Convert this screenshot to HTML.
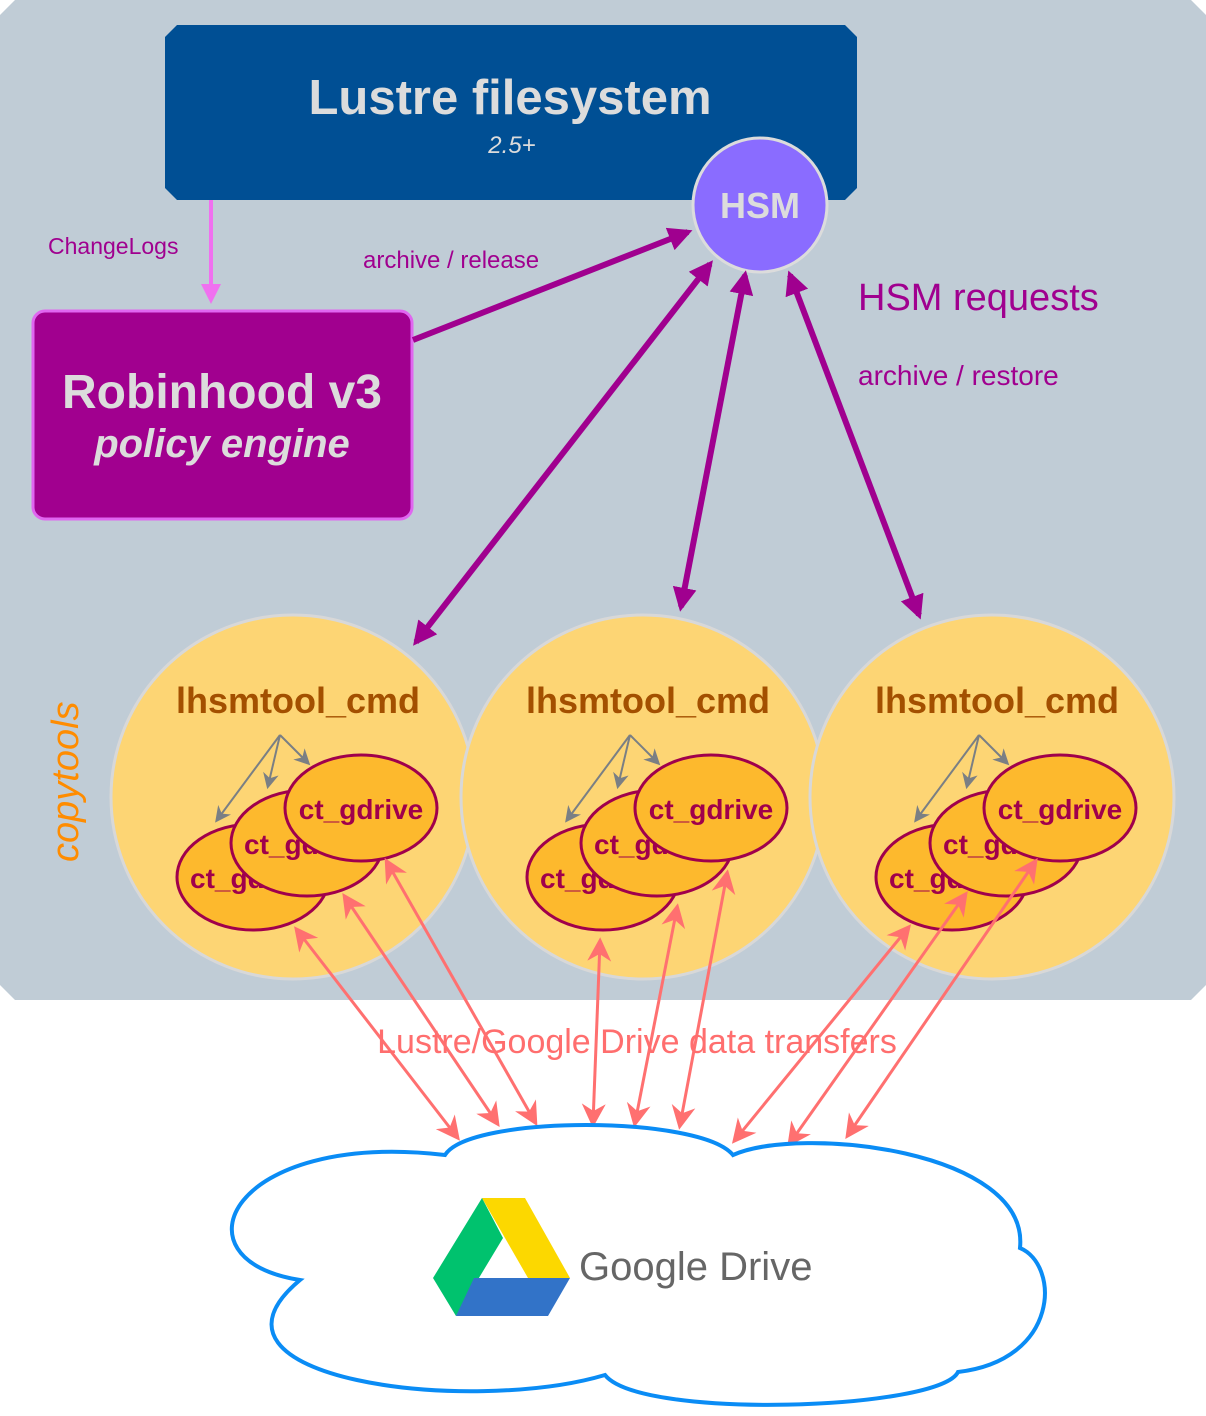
<!DOCTYPE html>
<html><head><meta charset="utf-8"><style>html,body{margin:0;padding:0;background:#fff}svg{display:block}text{font-family:"Liberation Sans",Arial,sans-serif}</style></head><body>
<svg width="1206" height="1416" viewBox="0 0 1206 1416" xmlns="http://www.w3.org/2000/svg">
<defs>
<marker id="pa" viewBox="0 0 10 10" refX="8" refY="5" markerWidth="4" markerHeight="4" orient="auto-start-reverse"><path d="M0,0 L10,5 L0,10 Z" fill="#a0008f"/></marker>
<marker id="ka" viewBox="0 0 10 10" refX="8" refY="5" markerWidth="8" markerHeight="8" orient="auto-start-reverse"><path d="M0,0 L10,5 L0,10 L3,5 Z" fill="#ff7070"/></marker>
<marker id="ga" viewBox="0 0 10 10" refX="8" refY="5" markerWidth="8" markerHeight="8" orient="auto"><path d="M0,0 L10,5 L0,10 L3,5 Z" fill="#7a7f84"/></marker>
<marker id="ca" viewBox="0 0 10 10" refX="8" refY="5" markerWidth="5" markerHeight="5" orient="auto"><path d="M0,0 L10,5 L0,10 Z" fill="#f070f0"/></marker>
<g id="ct">
<circle cx="293" cy="797" r="182" fill="#fdd574" stroke="#d8d8d8" stroke-width="3"/>
<text x="298" y="713" font-size="36" font-weight="bold" fill="#a35000" text-anchor="middle">lhsmtool_cmd</text>
<g stroke="#7a7f84" stroke-width="2" fill="none">
<line x1="280" y1="735" x2="217" y2="820" marker-end="url(#ga)"/>
<line x1="280" y1="735" x2="268" y2="786" marker-end="url(#ga)"/>
<line x1="280" y1="735" x2="308" y2="763" marker-end="url(#ga)"/>
</g>
<g stroke="#a0004c" stroke-width="3" fill="#fdb92d">
<ellipse cx="253" cy="877" rx="76" ry="53"/>
<text x="190" y="888" font-size="28" font-weight="bold" fill="#a0004c" stroke="none">ct_gdrive</text>
<ellipse cx="307" cy="843" rx="76" ry="53"/>
<text x="244" y="854" font-size="28" font-weight="bold" fill="#a0004c" stroke="none">ct_gdrive</text>
<ellipse cx="361" cy="808" rx="76" ry="53"/>
<text x="361" y="819" font-size="28" font-weight="bold" fill="#a0004c" stroke="none" text-anchor="middle">ct_gdrive</text>
</g>
</g>
</defs>
<path d="M15,0 H1191 L1206,15 V985 L1191,1000 H15 L0,985 V15 Z" fill="#c0ccd6"/>
<path d="M177,25 H845 L857,37 V188 L845,200 H177 L165,188 V37 Z" fill="#004f94"/>
<text x="510" y="114" font-size="49" font-weight="bold" fill="#dcdcdc" text-anchor="middle">Lustre filesystem</text>
<text x="512" y="153" font-size="24" font-style="italic" fill="#dcdcdc" text-anchor="middle">2.5+</text>
<circle cx="760" cy="205" r="67" fill="#8a6cff" stroke="#dcdcdc" stroke-width="3"/>
<text x="760" y="218" font-size="36" font-weight="bold" fill="#dcdcdc" text-anchor="middle">HSM</text>
<line x1="211" y1="200" x2="211" y2="300" stroke="#f070f0" stroke-width="4" marker-end="url(#ca)"/>
<text x="48" y="254" font-size="23" fill="#a0008f">ChangeLogs</text>
<rect x="33" y="311" width="379" height="208" rx="12" fill="#a1008f" stroke="#e066f0" stroke-width="3"/>
<text x="222" y="408" font-size="48" font-weight="bold" fill="#dcdcdc" text-anchor="middle">Robinhood v3</text>
<text x="222" y="457" font-size="40" font-weight="bold" font-style="italic" fill="#dcdcdc" text-anchor="middle">policy engine</text>
<text x="363" y="268" font-size="24" fill="#a0008f">archive / release</text>
<text x="858" y="310" font-size="38" fill="#a0008f">HSM requests</text>
<text x="858" y="385" font-size="28" fill="#a0008f">archive / restore</text>
<text transform="translate(78,862) rotate(-90)" font-size="38" font-style="italic" fill="#ff8c00">copytools</text>
<use href="#ct"/>
<use href="#ct" transform="translate(350,0)"/>
<use href="#ct" transform="translate(699,0)"/>
<g stroke="#a0008f" stroke-width="6" fill="none">
<line x1="413" y1="340" x2="688" y2="232" marker-end="url(#pa)"/>
<line x1="710" y1="264" x2="416" y2="642" marker-end="url(#pa)" marker-start="url(#pa)"/>
<line x1="745" y1="275" x2="681" y2="607" marker-end="url(#pa)" marker-start="url(#pa)"/>
<line x1="790" y1="275" x2="919" y2="615" marker-end="url(#pa)" marker-start="url(#pa)"/>
</g>
<g stroke="#ff7070" stroke-width="3" fill="none">
<line x1="297" y1="930" x2="457" y2="1137" marker-end="url(#ka)" marker-start="url(#ka)"/>
<line x1="345" y1="897" x2="497" y2="1123" marker-end="url(#ka)" marker-start="url(#ka)"/>
<line x1="387" y1="862" x2="535" y2="1122" marker-end="url(#ka)" marker-start="url(#ka)"/>
<line x1="600" y1="942" x2="593" y2="1123" marker-end="url(#ka)" marker-start="url(#ka)"/>
<line x1="677" y1="908" x2="635" y2="1123" marker-end="url(#ka)" marker-start="url(#ka)"/>
<line x1="727" y1="874" x2="680" y2="1125" marker-end="url(#ka)" marker-start="url(#ka)"/>
<line x1="908" y1="928" x2="735" y2="1140" marker-end="url(#ka)" marker-start="url(#ka)"/>
<line x1="965" y1="895" x2="790" y2="1143" marker-end="url(#ka)" marker-start="url(#ka)"/>
<line x1="1035" y1="862" x2="848" y2="1135" marker-end="url(#ka)" marker-start="url(#ka)"/>
</g>
<text x="637" y="1053" font-size="34" fill="#ff6e6e" text-anchor="middle">Lustre/Google Drive data transfers</text>
<path d="M445,1155 C470,1115 700,1115 733,1155 C800,1125 1030,1150 1020,1248 C1060,1265 1060,1360 958,1372 C940,1410 640,1420 605,1375 C470,1415 180,1380 300,1280 C170,1260 230,1130 445,1155 Z" fill="#fff" stroke="#0a8cf5" stroke-width="4"/>
<polygon points="482,1198 525,1198 570,1278 528,1278" fill="#fcd800"/>
<polygon points="482,1198 503,1238 456,1316 433,1278" fill="#00c26e"/>
<polygon points="474,1278 570,1278 548,1316 456,1316" fill="#3273c8"/>
<text x="579" y="1280" font-size="40" fill="#666">Google Drive</text>
</svg>
</body></html>
